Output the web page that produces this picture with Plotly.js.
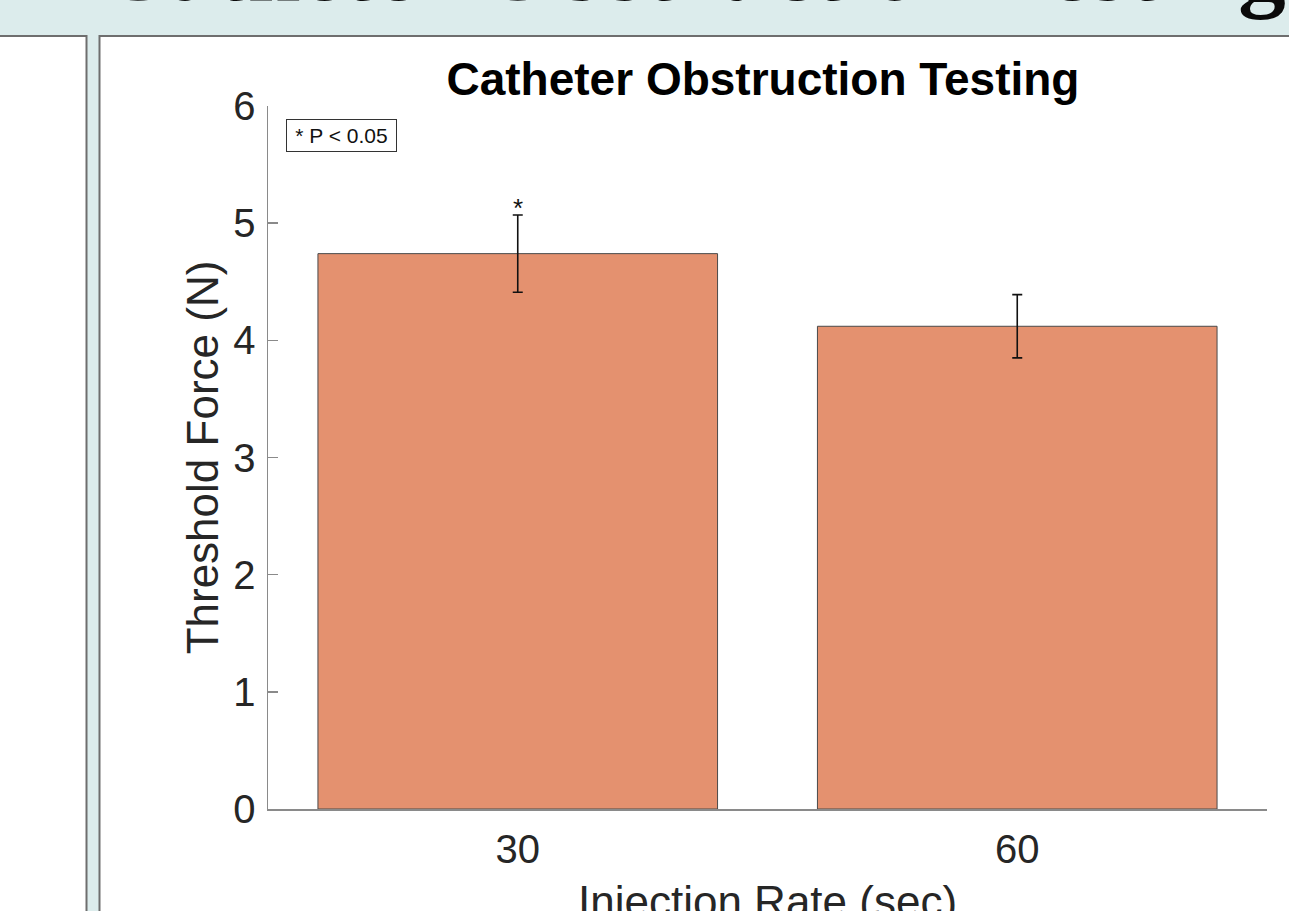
<!DOCTYPE html>
<html>
<head>
<meta charset="utf-8">
<script src="https://cdn.plot.ly/plotly-3.0.1.min.js"></script>
<style>
  html, body { margin: 0; padding: 0; background: #ffffff; }
  #chart { width: 1289px; height: 911px; }
</style>
</head>
<body>
<div id="chart"></div>
<script>
// ---- data ----
const categories = ['30', '60'];
const meanForce = [4.74, 4.12];
const errForce = [0.33, 0.27];
const significant = ['*', ''];
const yTicks = [0, 1, 2, 3, 4, 5, 6];
const chartTitle = 'Catheter Obstruction Testing';
const posterHeading = 'Catheter Obstruction Testing';
const xLabel = 'Injection Rate (sec)';
const yLabel = 'Threshold Force (N)';
const legendNote = '* P < 0.05';

// ---- layout geometry (pixels) ----
const W = 1289, H = 911;
const L = 268, R = 1267, T = 106, B = 809;
const px2x = p => (p - L) / (R - L);
const py2y = p => (B - p) / (B - T);

const teal = '#dcecec';
const border = '#6e6e6e';
const textDark = '#262626';
const sans = 'Liberation Sans, Arial, sans-serif';

const trace = {
  type: 'bar',
  x: categories,
  y: meanForce,
  width: 0.8,
  marker: { color: '#e4916f', line: { color: '#4a4a4a', width: 1 } },
  error_y: { type: 'data', array: errForce, visible: true, color: '#111111', thickness: 1.6, width: 5 },
  hoverinfo: 'skip'
};

const annotations = [];
// significance stars above error bars
categories.forEach((c, i) => {
  if (significant[i]) {
    annotations.push({
      x: i, y: meanForce[i] + errForce[i], xref: 'x', yref: 'y',
      text: significant[i], showarrow: false, xanchor: 'center', yanchor: 'bottom',
      font: { family: sans, size: 26, color: '#111111' },
      yshift: -10
    });
  }
});
// legend note box
annotations.push({
  xref: 'paper', yref: 'paper', x: px2x(286), y: py2y(119),
  xanchor: 'left', yanchor: 'top', text: legendNote, showarrow: false,
  font: { family: sans, size: 21, color: '#111111' },
  width: 105, height: 27, align: 'center', valign: 'middle',
  bordercolor: '#333333', borderwidth: 1, borderpad: 2, bgcolor: '#ffffff'
});
// x axis title (sits low, partly cut by the picture edge)
annotations.push({
  xref: 'paper', yref: 'paper', x: px2x(767), y: py2y(875),
  xanchor: 'center', yanchor: 'top', text: xLabel, showarrow: false,
  font: { family: sans, size: 44, color: textDark }
});
// poster heading (cut off at top)
annotations.push({
  xref: 'paper', yref: 'paper', x: px2x(1288), y: py2y(23.5),
  xanchor: 'right', yanchor: 'bottom', text: '<b>' + posterHeading + '</b>', showarrow: false,
  font: { family: 'Liberation Serif, Times New Roman, serif', size: 95, color: '#0a0a0a' }
});

const shapes = [
  // poster teal background
  { type: 'rect', xref: 'paper', yref: 'paper', layer: 'below',
    x0: px2x(-10), x1: px2x(W + 10), y0: py2y(H + 10), y1: py2y(-10),
    fillcolor: teal, line: { width: 0 } },
  // left white panel
  { type: 'rect', xref: 'paper', yref: 'paper', layer: 'below',
    x0: px2x(-20), x1: px2x(86.5), y0: py2y(H + 20), y1: py2y(36),
    fillcolor: '#ffffff', line: { color: border, width: 2 } },
  // right white panel
  { type: 'rect', xref: 'paper', yref: 'paper', layer: 'below',
    x0: px2x(99.5), x1: px2x(W + 20), y0: py2y(H + 20), y1: py2y(36),
    fillcolor: '#ffffff', line: { color: border, width: 2 } }
];

const layout = {
  width: W, height: H,
  margin: { l: L, r: W - R, t: T, b: H - B, pad: 0 },
  paper_bgcolor: '#ffffff',
  plot_bgcolor: 'rgba(0,0,0,0)',
  showlegend: false,
  title: {
    text: '<b>' + chartTitle + '</b>',
    font: { family: sans, size: 46, color: '#000000' },
    x: px2x(763), xref: 'paper', xanchor: 'center',
    y: 1 - 79 / H, yref: 'container', yanchor: 'middle'
  },
  xaxis: {
    type: 'category',
    range: [-0.5, 1.5],
    showline: true, linecolor: '#8a8a8a', linewidth: 1.5,
    ticks: '', showgrid: false, zeroline: false,
    tickfont: { family: sans, size: 40, color: textDark },
    ticklabelstandoff: 4,
    automargin: false
  },
  yaxis: {
    range: [0, 6],
    tickvals: yTicks,
    ticktext: yTicks.map(String),
    showline: true, linecolor: '#8a8a8a', linewidth: 1.5,
    ticks: 'inside', ticklen: 10, tickcolor: '#8a8a8a', tickwidth: 1.5,
    showgrid: false, zeroline: false,
    tickfont: { family: sans, size: 40, color: textDark },
    ticklabelstandoff: 3,
    title: { text: yLabel, font: { family: sans, size: 44, color: textDark }, standoff: 1 },
    automargin: false
  },
  annotations: annotations,
  shapes: shapes
};

Plotly.newPlot('chart', [trace], layout, { staticPlot: true, displayModeBar: false });
</script>
</body>
</html>
